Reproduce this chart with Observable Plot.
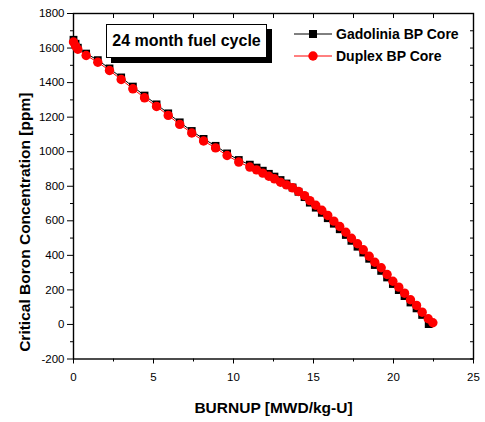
<!DOCTYPE html>
<html>
<head>
<meta charset="utf-8">
<script src="https://cdn.jsdelivr.net/npm/d3@7"></script>
<script src="https://cdn.jsdelivr.net/npm/@observablehq/plot@0.6"></script>
<style>
  body { margin: 0; background: #fff; }
  #wrap { position: relative; width: 485px; height: 422px; font-family: "Liberation Sans", Arial, sans-serif; }
  #wrap svg { display: block; }
  .titlebox { position: absolute; left: 106px; top: 24px; width: 159px; height: 32px; border: 1px solid #000; background: #fff;
    box-shadow: 5px 5px 0 0 #000; font-weight: bold; font-size: 16px; display: flex; align-items: center; justify-content: center; }
  .legend { position: absolute; left: 294px; top: 22.5px; font-weight: bold; font-size: 14px; }
  .legend .row { display: flex; align-items: center; height: 22px; }
  .legend svg { margin-right: 4px; }
</style>
</head>
<body>
<div id="wrap"></div>
<script>
// Data
const duplexBurnup = [0, 0.13, 0.27, 0.79, 1.52, 2.25, 2.98, 3.71, 4.44, 5.19, 5.92, 6.64, 7.39, 8.13, 8.88, 9.6, 10.33,
  11.02, 11.44, 11.83, 12.21, 12.56, 12.94, 13.31, 13.69, 14.06, 14.44, 14.77, 15.14, 15.52, 15.89, 16.27, 16.64,
  17.02, 17.37, 17.75, 18.11, 18.48, 18.83, 19.23, 19.6, 19.96, 20.33, 20.69, 21.06, 21.44, 21.79, 22.17, 22.46];
const duplexBoron = [1635, 1612, 1593, 1557, 1518, 1470, 1418, 1364, 1312, 1262, 1210, 1158, 1108, 1062, 1022, 978, 940,
  911, 895, 876, 858, 843, 823, 808, 791, 770, 746, 717, 690, 661, 631, 598, 567,
  534, 499, 467, 432, 395, 360, 328, 289, 250, 216, 181, 143, 110, 71, 33, 10];

const gadBurnup = [0, 0.13, 0.27, 0.79, 1.52, 2.25, 2.98, 3.71, 4.44, 5.19, 5.92, 6.64, 7.39, 8.13, 8.88, 9.6, 10.33,
  11.02, 11.44, 11.83, 12.21, 12.56, 12.94, 13.31, 13.69, 14.06, 14.44, 14.77, 15.14, 15.52, 15.89, 16.27, 16.64,
  17.02, 17.37, 17.75, 18.11, 18.48, 18.83, 19.23, 19.6, 19.96, 20.33, 20.69, 21.06, 21.44, 21.79, 22.2];
const gadoliniaBoron = [1648, 1625, 1602, 1568, 1530, 1482, 1430, 1377, 1325, 1274, 1222, 1170, 1120, 1074, 1034, 990, 952,
  925, 908, 890, 872, 856, 836, 816, 793, 768, 737, 705, 676, 646, 615, 583, 551,
  518, 484, 450, 416, 380, 344, 310, 272, 234, 199, 164, 127, 93, 55, 2];

const xTicks = [0, 5, 10, 15, 20, 25];
const xMinor = [2.5, 7.5, 12.5, 17.5, 22.5];
const yTicks = [-200, 0, 200, 400, 600, 800, 1000, 1200, 1400, 1600, 1800];
const yMinor = [-100, 100, 300, 500, 700, 900, 1100, 1300, 1500, 1700];
const xLabel = "BURNUP [MWD/kg-U]";
const yLabel = "Critical Boron Concentration [ppm]";
const titleText = "24 month fuel cycle";
const seriesNames = ["Gadolinia BP Core", "Duplex BP Core"];

const gad = gadBurnup.map((b, i) => ({burnup: b, boron: gadoliniaBoron[i]}));
const dup = duplexBurnup.map((b, i) => ({burnup: b, boron: duplexBoron[i]}));
const blank = () => "";

const chart = Plot.plot({
  width: 485,
  height: 422,
  marginLeft: 73,
  marginRight: 12,
  marginTop: 13,
  marginBottom: 63.5,
  x: {domain: [0, 25]},
  y: {domain: [-200, 1800]},
  style: {fontFamily: '"Liberation Sans", Arial, sans-serif', fontSize: "11.5px", color: "#000", background: "#fff"},
  marks: [
    Plot.axisX(xTicks, {tickSize: 5, tickPadding: 9, label: null, tickFormat: d => String(d)}),
    Plot.axisX(xMinor, {tickSize: 3, label: null, tickFormat: blank}),
    Plot.axisY(yTicks, {tickSize: 6, tickPadding: 3, label: null, tickFormat: d => String(d)}),
    Plot.axisY(yMinor, {tickSize: 3, label: null, tickFormat: blank}),
    Plot.axisX(xTicks.concat(xMinor), {anchor: "top", tickSize: -4, label: null, tickFormat: blank}),
    Plot.axisY(yTicks.concat(yMinor), {anchor: "right", tickSize: -4, label: null, tickFormat: blank}),
    Plot.frame({stroke: "#000", strokeWidth: 1.4}),
    Plot.line(gad, {x: "burnup", y: "boron", stroke: "#000", strokeWidth: 1}),
    Plot.dot(gad, {x: "burnup", y: "boron", symbol: "square", fill: "#000", r: 4.4}),
    Plot.line(dup, {x: "burnup", y: "boron", stroke: "#ff0000", strokeWidth: 1}),
    Plot.dot(dup, {x: "burnup", y: "boron", fill: "#ff0000", r: 4.7}),
    Plot.text([xLabel], {frameAnchor: "bottom", dy: 49.5, textAnchor: "middle", lineAnchor: "middle", fontSize: 15.5, fontWeight: "bold"}),
    Plot.text([yLabel], {frameAnchor: "left", dx: -48, dy: 36, rotate: -90, textAnchor: "middle", lineAnchor: "middle", fontSize: 15.5, fontWeight: "bold"})
  ]
});

const wrap = document.getElementById("wrap");
wrap.appendChild(chart);

const tb = document.createElement("div");
tb.className = "titlebox";
tb.textContent = titleText;
wrap.appendChild(tb);

const lg = document.createElement("div");
lg.className = "legend";
const syms = [
  '<svg width="38" height="12"><line x1="0" y1="6" x2="38" y2="6" stroke="#000" stroke-width="1"/><rect x="15" y="2" width="8" height="8" fill="#000"/></svg>',
  '<svg width="38" height="12"><line x1="0" y1="6" x2="38" y2="6" stroke="#ff0000" stroke-width="1"/><circle cx="19" cy="6" r="4.7" fill="#ff0000"/></svg>'
];
seriesNames.forEach((n, i) => {
  const row = document.createElement("div");
  row.className = "row";
  row.innerHTML = syms[i] + "<span></span>";
  row.querySelector("span").textContent = n;
  lg.appendChild(row);
});
wrap.appendChild(lg);
</script>
</body>
</html>
